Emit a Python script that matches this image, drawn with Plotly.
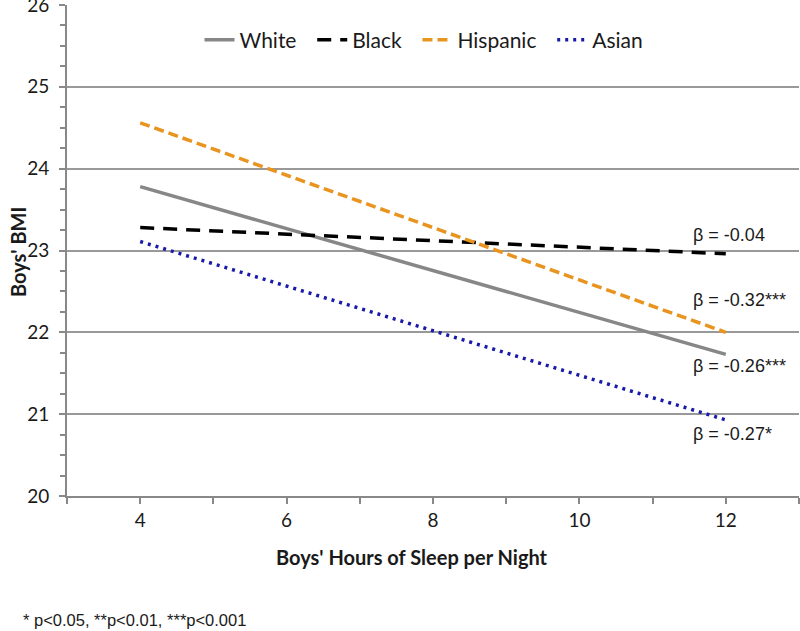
import plotly.graph_objects as go

# Data
hours = [4, 12]
white = [23.78, 21.73]
black = [23.28, 22.96]
hispanic = [24.56, 22.00]
asian = [23.11, 20.93]
series_names = ["White", "Black", "Hispanic", "Asian"]
betas = ["β = -0.04", "β = -0.32***", "β = -0.26***", "β = -0.27*"]
beta_y = [23.19, 22.39, 21.59, 20.76]

pad = "\u00a0\u00a0"
fig = go.Figure()
fig.add_trace(go.Scatter(x=hours, y=white, mode="lines", name=series_names[0] + pad,
                         line=dict(color="#878787", width=3.5)))
fig.add_trace(go.Scatter(x=hours, y=black, mode="lines", name=series_names[1] + pad,
                         line=dict(color="#000000", width=3.5, dash="14px,9px")))
fig.add_trace(go.Scatter(x=hours, y=hispanic, mode="lines", name=series_names[2] + pad,
                         line=dict(color="#E8941F", width=3.5, dash="10px,5px")))
fig.add_trace(go.Scatter(x=hours, y=asian, mode="lines", name=series_names[3],
                         line=dict(color="#1A1AAA", width=3.5, dash="3px,5px")))

for t, yv in zip(betas, beta_y):
    fig.add_annotation(x=11.52, y=yv, xref="x", yref="y", text=t, showarrow=False,
                       xanchor="left", yanchor="middle",
                       font=dict(family="Liberation Sans, Arial", size=18, color="#1a1a1a"))

fig.add_annotation(x=(412 - 67) / 732, y=-(557 - 496) / 491, xref="paper", yref="paper",
                   text="<b>Boys' Hours of Sleep per Night</b>", showarrow=False,
                   xanchor="center", yanchor="middle",
                   font=dict(family="Lato", size=20, color="#1a1a1a"))
fig.add_annotation(x=-(67 - 18) / 732, y=1 - (252 - 5) / 491, xref="paper", yref="paper",
                   text="<b>Boys' BMI</b>", showarrow=False, textangle=-90,
                   xanchor="center", yanchor="middle",
                   font=dict(family="Lato", size=20, color="#1a1a1a"))
fig.add_annotation(x=-(67 - 21) / 732, y=-(620 - 496) / 491, xref="paper", yref="paper",
                   text="* p<0.05, **p<0.01, ***p<0.001", showarrow=False,
                   xanchor="left", yanchor="middle",
                   font=dict(family="Liberation Sans, Arial", size=16.5, color="#1a1a1a"))

fig.update_layout(
    width=800, height=631,
    margin=dict(l=67, r=1, t=5, b=135, autoexpand=False),
    paper_bgcolor="white", plot_bgcolor="white",
    showlegend=True,
    legend=dict(orientation="h", x=(424 - 67) / 732, xanchor="center",
                y=1 - (40 - 5) / 491, yanchor="middle",
                font=dict(family="Lato", size=21, color="#1a1a1a"),
                bgcolor="rgba(0,0,0,0)", tracegroupgap=0),
    xaxis=dict(range=[3, 13], tickvals=[4, 6, 8, 10, 12], showgrid=False, automargin=False,
               showline=True, linecolor="#888888", linewidth=2,
               ticks="outside", ticklen=6, tickcolor="#888888", tickwidth=1.5,
               minor=dict(dtick=1, tick0=3, ticks="outside", ticklen=6,
                          tickcolor="#888888", tickwidth=1.5),
               tickfont=dict(family="Lato", size=19, color="#1a1a1a"),
               zeroline=False),
    yaxis=dict(range=[20, 26.0001], tickvals=[20, 21, 22, 23, 24, 25, 26],
               showgrid=True, gridcolor="#999999", gridwidth=1.5,
               automargin=False, ticklabeloverflow="allow", ticklabelstandoff=6,
               showline=True, linecolor="#888888", linewidth=2,
               ticks="outside", ticklen=6, tickcolor="#888888", tickwidth=1.5,
               minor=dict(dtick=0.25, ticks="outside", ticklen=5,
                          tickcolor="#888888", tickwidth=1.5, showgrid=False),
               tickfont=dict(family="Lato", size=19, color="#1a1a1a"),
               zeroline=False),
)

fig.write_html("out.html", config={"displayModeBar": False},
               post_script="document.body.style.margin='0';document.body.style.overflow='hidden';")
